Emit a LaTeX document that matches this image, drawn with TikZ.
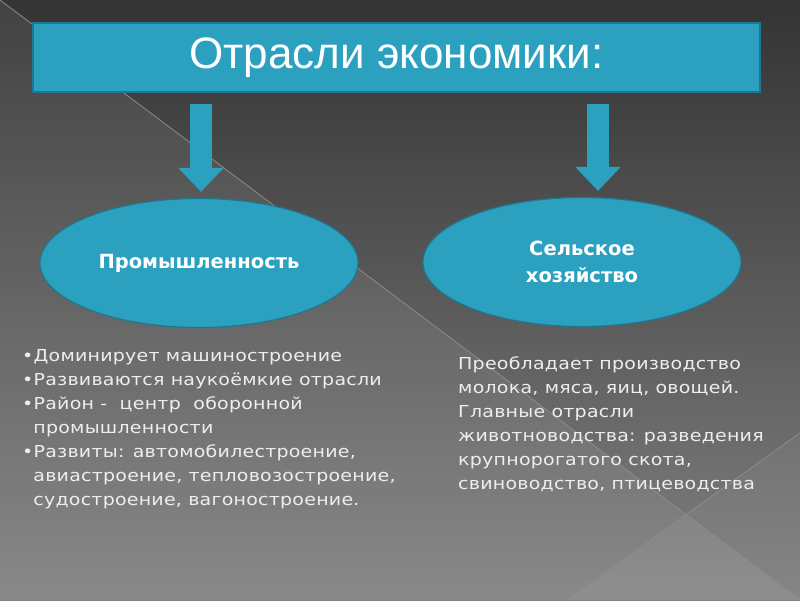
\documentclass[tikz,border=0pt]{standalone}
\usepackage{fontspec}
\setmainfont{Liberation Sans}
\newfontfamily\gothic[FakeStretch=1.15,LetterSpace=1.5]{DejaVu Sans}
\newfontfamily\ovalfont{DejaVu Sans}
\usetikzlibrary{arrows.meta,shapes.geometric}
\definecolor{tealbox}{RGB}{43,161,191}
\definecolor{tealedge}{RGB}{30,120,145}
\definecolor{bgtop}{RGB}{52,52,52}
\definecolor{bgbottom}{RGB}{128,128,128}
\definecolor{lighttext}{RGB}{238,238,238}
\definecolor{sheen}{RGB}{140,140,140}
\tikzset{
  titlebox/.style={draw=tealedge, fill=tealbox, line width=1.2pt, minimum width=727pt, minimum height=69pt, text=white, font=\fontsize{44}{50}\selectfont},
  branch/.style={ellipse, draw=tealedge, fill=tealbox, line width=1.2pt, minimum width=318pt, minimum height=129pt, text=white, align=center, font=\ovalfont\bfseries\fontsize{19.5}{27}\selectfont},
  notes/.style={anchor=north west, inner sep=0pt, align=left, text=lighttext, font=\gothic\fontsize{16.5}{24}\selectfont},
  bigarrow/.style={draw=tealbox, line width=22pt, -{Triangle[width=44pt,length=24pt]}}
}
\begin{document}
\begin{tikzpicture}[x=1pt,y=-1pt]
\useasboundingbox (0,0) rectangle (800,600);
\shade[top color=bgtop, bottom color=bgbottom] (0,0) rectangle (800,600);
\fill[white, opacity=0.07] (0,0) -- (800,600) -- (0,600) -- cycle;
\fill[white, opacity=0.05] (800,433) -- (800,600) -- (567,600) -- cycle;
\draw[sheen, line width=0.8pt] (0,0) -- (800,600);
\draw[sheen, line width=0.8pt] (800,433) -- (567,600);
%background

\node[titlebox] (title) at (396.5,57.5) {Отрасли экономики:};
\node[branch] (ind) at (199,263) {Промышленность};
\node[branch] (agr) at (582,262) {Сельское\\хозяйство};
%branches

\draw[bigarrow] ([xshift=2pt,yshift=-11pt]title.south -| ind.north) -- ([xshift=2pt,yshift=6pt]ind.north);
\draw[bigarrow] ([xshift=16pt,yshift=-11pt]title.south -| agr.north) -- ([xshift=16pt,yshift=6pt]agr.north);
%arrows

\node[notes] (indnotes) at (22,349) {•Доминирует машиностроение\\•Развиваются наукоёмкие отрасли\\•Район -\ \ центр\ \ оборонной\\\phantom{•}промышленности\\•Развиты: автомобилестроение,\\\phantom{•}авиастроение, тепловозостроение,\\\phantom{•}судостроение, вагоностроение.};
\node[notes] (agrnotes) at (458,356) {Преобладает производство\\молока, мяса, яиц, овощей.\\Главные отрасли\\животноводства: разведения\\крупнорогатого скота,\\свиноводство, птицеводства};
%texts
\end{tikzpicture}
\end{document}
